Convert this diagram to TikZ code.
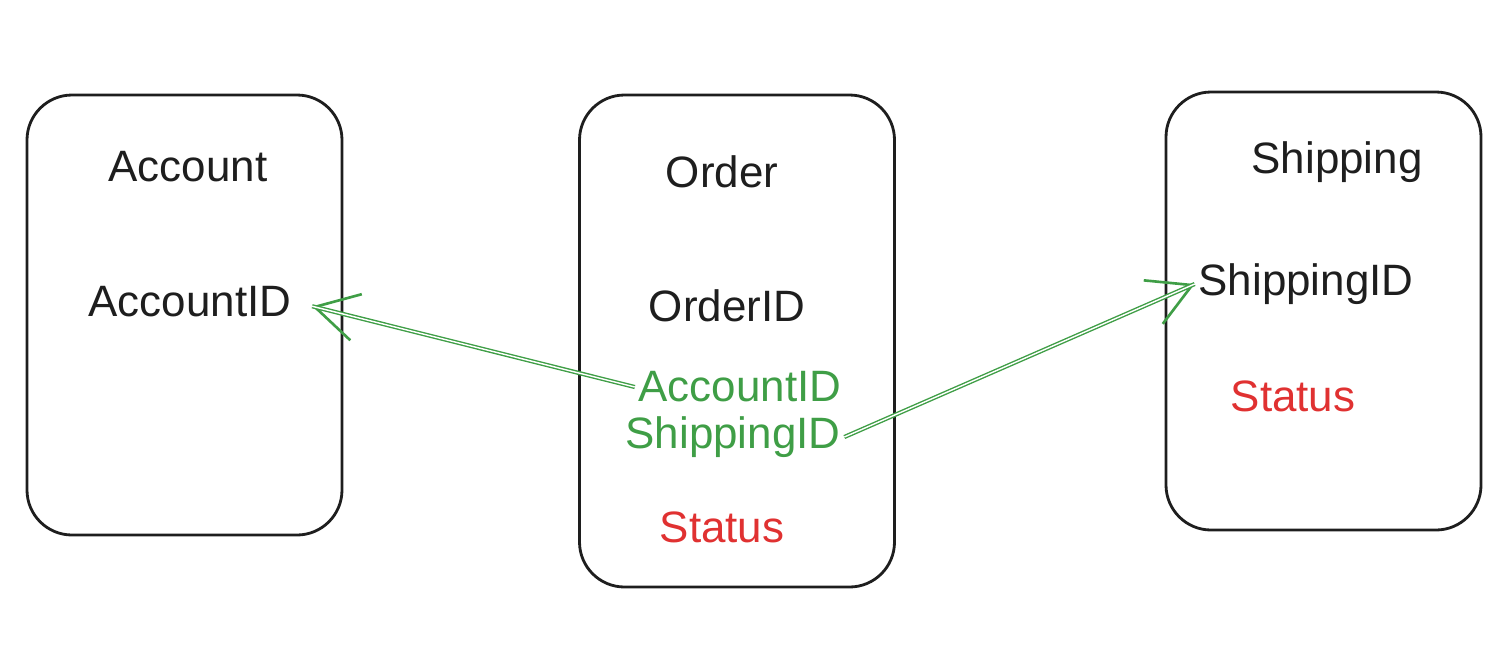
\documentclass[tikz,border=0pt]{standalone}
\usepackage{fontspec}
\setmainfont{Liberation Sans}
\usetikzlibrary{arrows.meta}

\definecolor{inkblack}{HTML}{1E1E1E}
\definecolor{keygreen}{HTML}{3F9E46}
\definecolor{statusred}{HTML}{E03131}

\begin{document}
\begin{tikzpicture}[
table/.style={
draw=inkblack,
line width=1.6pt,
rectangle,
rounded corners=0.9cm,
minimum width=6.3cm
},
field/.style={
text=inkblack,
inner sep=2pt,
font=\fontsize{25}{30}\selectfont
},
fkey/.style={
field,
text=keygreen
},
state/.style={
field,
text=statusred
},
arrow/.style={
draw=keygreen,
double=white,
double distance=0.8pt,
line width=0.8pt,
preaction={
draw=keygreen,
line width=1.5pt,
-{Straight Barb[length=0.85cm,width=0.95cm,line width=1.5pt]}
}
}
]
\useasboundingbox (0,0) rectangle (30.08,-12.92);

\node[table, minimum height=8.8cm] (accountbox) at (3.69,-6.30) {};
\node[table, minimum height=9.84cm] (orderbox) at (14.74,-6.82) {};
\node[table, minimum height=8.76cm] (shippingbox) at (26.47,-6.22) {};

\node[field] (account) at (3.76,-3.34) {Account};
\node[field] (accountid) at (3.80,-6.04) {AccountID};

\node[field] (order) at (14.44,-3.44) {Order};
\node[field] (orderid) at (14.54,-6.12) {OrderID};
\node[fkey] (oaccountid) at (14.80,-7.74) {AccountID};
\node[fkey] (oshippingid) at (14.66,-8.74) {ShippingID};
\node[state] (ostatus) at (14.44,-10.54) {Status};

\node[field] (shipping) at (26.74,-3.24) {Shipping};
\node[field] (shippingid) at (26.12,-5.68) {ShippingID};
\node[state] (sstatus) at (25.86,-7.92) {Status};

\draw[arrow, shorten >=0.35cm] (oaccountid.west) -- (accountid.east);
\draw[arrow] (oshippingid.east) -- (shippingid.west);

\end{tikzpicture}
\end{document}
